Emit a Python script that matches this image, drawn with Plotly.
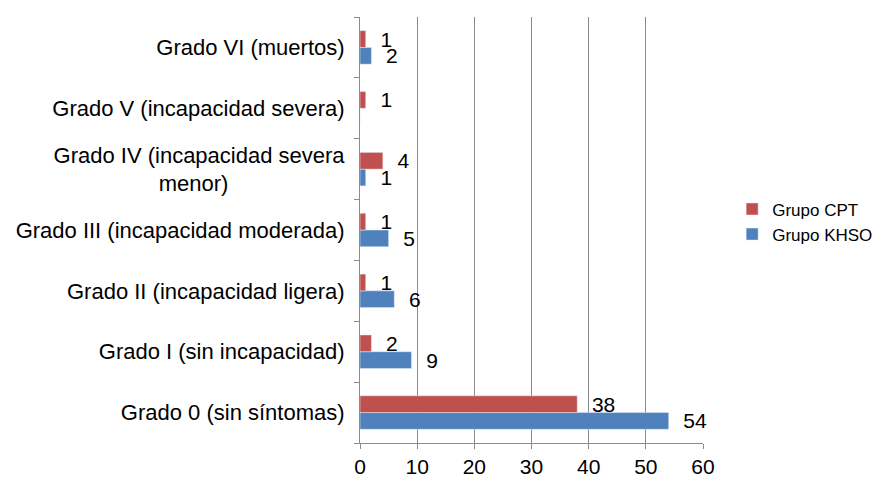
import plotly.graph_objects as go

categories = [
    "Grado 0 (sin síntomas)",
    "Grado I (sin incapacidad)",
    "Grado II (incapacidad ligera)",
    "Grado III (incapacidad moderada)",
    "Grado IV (incapacidad severa<br>menor)" + "\u00a0" * 19,
    "Grado V (incapacidad severa)",
    "Grado VI (muertos)",
]
cpt_values = [38, 2, 1, 1, 4, 1, 1]
khso_values = [54, 9, 6, 5, 1, 0, 2]
series_names = ["Grupo CPT", "Grupo KHSO"]
colors = {"Grupo CPT": "#C0504D", "Grupo KHSO": "#4F81BD"}

def labels(vals):
    return ["  " + str(v) if v else "" for v in vals]

fig = go.Figure()
fig.add_trace(go.Bar(
    y=categories, x=khso_values, orientation="h", name=series_names[1],
    marker=dict(color=colors["Grupo KHSO"]),
    text=labels(khso_values), textposition="outside", constraintext="none",
    textfont=dict(size=21, color="#000000"), cliponaxis=False,
))
fig.add_trace(go.Bar(
    y=categories, x=cpt_values, orientation="h", name=series_names[0],
    marker=dict(color=colors["Grupo CPT"]),
    text=labels(cpt_values), textposition="outside", constraintext="none",
    textfont=dict(size=21, color="#000000"), cliponaxis=False,
))

fig.update_layout(
    width=896, height=480,
    margin=dict(l=360, r=193, t=17, b=37),
    paper_bgcolor="white", plot_bgcolor="white",
    font=dict(family="Liberation Sans, Arial, sans-serif", size=22, color="#000000"),
    barmode="group", bargap=0.45, bargroupgap=0,
    showlegend=True,
    legend=dict(x=1.085, y=0.519, xanchor="left", yanchor="middle",
                traceorder="reversed", font=dict(size=17, family="Liberation Sans, Arial, sans-serif"),
                itemwidth=30, tracegroupgap=0),
    xaxis=dict(range=[0, 60], dtick=10, showgrid=True, gridcolor="#8C8C8C",
               gridwidth=1, showline=True, linecolor="#8C8C8C", ticks="outside",
               ticklen=5, tickcolor="#8C8C8C", zeroline=False, automargin=False,
               tickfont=dict(size=21)),
    yaxis=dict(type="category", categoryorder="array", categoryarray=categories,
               showline=True, linecolor="#8C8C8C", ticks="outside",
               tickson="boundaries", ticklen=5, tickcolor="#8C8C8C",
               automargin=False, ticklabelstandoff=10, tickfont=dict(size=22)),
)
fig.write_html("out.html", config={"displayModeBar": False},
               post_script="document.body.style.margin='0';document.body.style.padding='0';")
